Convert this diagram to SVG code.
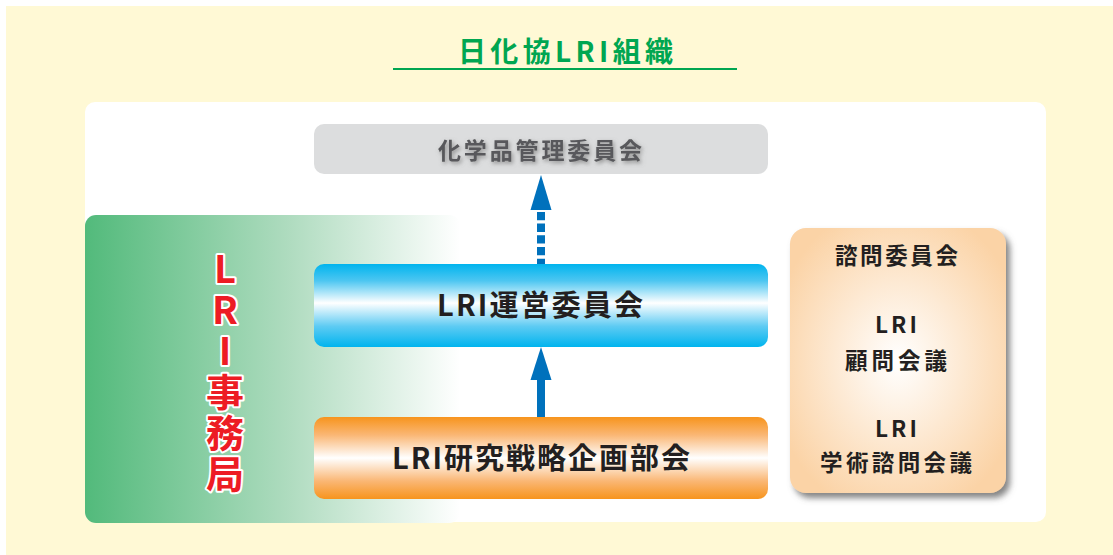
<svg xmlns="http://www.w3.org/2000/svg" width="1113" height="555" viewBox="0 0 1113 555">
<defs>
<style>
text{font-family:"Noto Sans CJK JP","Noto Sans",sans-serif;font-weight:bold;text-anchor:middle}
.dark{fill:#231F20}
.title{fill:#00A651;font-size:28px}
.gray{fill:#58595B;font-size:23px}
.big{font-size:29px}
.sm{font-size:22.5px}
.red{fill:#ED1C24;stroke:#FFFFFF;stroke-width:4;paint-order:stroke;stroke-linejoin:round;font-size:38px;text-anchor:start;writing-mode:vertical-rl;text-orientation:upright;letter-spacing:3px}
.arrow{fill:#0071BC}
</style>
<linearGradient id="gGreen" x1="0" y1="0" x2="1" y2="0">
<stop offset="0" stop-color="#52BA7B"/>
<stop offset="0.55" stop-color="#B0DCC0"/>
<stop offset="1" stop-color="#FFFFFF"/>
</linearGradient>
<linearGradient id="gBlue" x1="0" y1="0" x2="0" y2="1">
<stop offset="0" stop-color="#00B4EE"/>
<stop offset="0.2" stop-color="#4CC6F1"/>
<stop offset="0.47" stop-color="#FFFFFF"/>
<stop offset="0.75" stop-color="#5ECBF3"/>
<stop offset="1" stop-color="#00B4EE"/>
</linearGradient>
<linearGradient id="gOrange" x1="0" y1="0" x2="0" y2="1">
<stop offset="0" stop-color="#F7941D"/>
<stop offset="0.22" stop-color="#FAB775"/>
<stop offset="0.5" stop-color="#FFFFFF"/>
<stop offset="0.78" stop-color="#FAB775"/>
<stop offset="1" stop-color="#F7941D"/>
</linearGradient>
<radialGradient id="gPeach" cx="0.5" cy="0.5" r="0.6">
<stop offset="0" stop-color="#FFFFFF"/>
<stop offset="1" stop-color="#FBD3A6"/>
</radialGradient>
<filter id="boxShadow" x="-10%" y="-10%" width="130%" height="130%">
<feDropShadow dx="4" dy="5" stdDeviation="3" flood-color="#666666" flood-opacity="0.8"/>
</filter>
<filter id="txtShadow" x="-10%" y="-30%" width="120%" height="180%">
<feDropShadow dx="1.5" dy="2" stdDeviation="2" flood-color="#777777" flood-opacity="0.8"/>
</filter>
</defs>

<rect x="0" y="0" width="1113" height="555" fill="#FFFFFF"/>
<rect x="6" y="6" width="1107" height="549" fill="#FFF9D5"/>

<g id="title">
<text class="title" x="565.5" y="61.5" textLength="215" lengthAdjust="spacing">日化協LRI組織</text>
<line x1="393" y1="69" x2="737" y2="69" stroke="#00A651" stroke-width="2"/>
</g>

<rect id="panel" x="85" y="102" width="961" height="420" rx="10" fill="#FFFFFF"/>

<g id="secretariat">
<rect x="85" y="215" width="375" height="308" rx="11" fill="url(#gGreen)"/>
<text class="red" x="225" y="250">LRI事務局</text>
</g>

<g id="chem-committee">
<rect x="314" y="124" width="454" height="50" rx="10" fill="#DCDDDE"/>
<text class="gray" x="540" y="159" textLength="204" lengthAdjust="spacing" filter="url(#txtShadow)">化学品管理委員会</text>
</g>

<g id="steering">
<rect x="314" y="264" width="454" height="83" rx="10" fill="url(#gBlue)"/>
<text class="dark big" x="540" y="316" textLength="206" lengthAdjust="spacing">LRI運営委員会</text>
</g>

<g id="strategy">
<rect x="314" y="417" width="454" height="82" rx="10" fill="url(#gOrange)"/>
<text class="dark big" x="541" y="469" textLength="298" lengthAdjust="spacing">LRI研究戦略企画部会</text>
</g>

<g id="advisory">
<rect x="790" y="228" width="216" height="265" rx="16" fill="url(#gPeach)" filter="url(#boxShadow)"/>
<text class="dark sm" x="896.5" y="264" textLength="123" lengthAdjust="spacing">諮問委員会</text>
<text class="dark sm" x="896" y="333" textLength="42" lengthAdjust="spacing">LRI</text>
<text class="dark sm" x="896" y="369" textLength="102" lengthAdjust="spacing">顧問会議</text>
<text class="dark sm" x="896" y="437" textLength="42" lengthAdjust="spacing">LRI</text>
<text class="dark sm" x="896" y="471" textLength="152" lengthAdjust="spacing">学術諮問会議</text>
</g>

<g id="connectors">
<line x1="541" y1="264" x2="541" y2="209" stroke="#0071BC" stroke-width="8" stroke-dasharray="8.3 3.4" stroke-dashoffset="3"/>
<polygon class="arrow" points="541,175 551.5,210 530.5,210"/>
<rect class="arrow" x="537" y="378" width="8" height="39"/>
<polygon class="arrow" points="541,347 551.5,380 530.5,380"/>
</g>
</svg>
